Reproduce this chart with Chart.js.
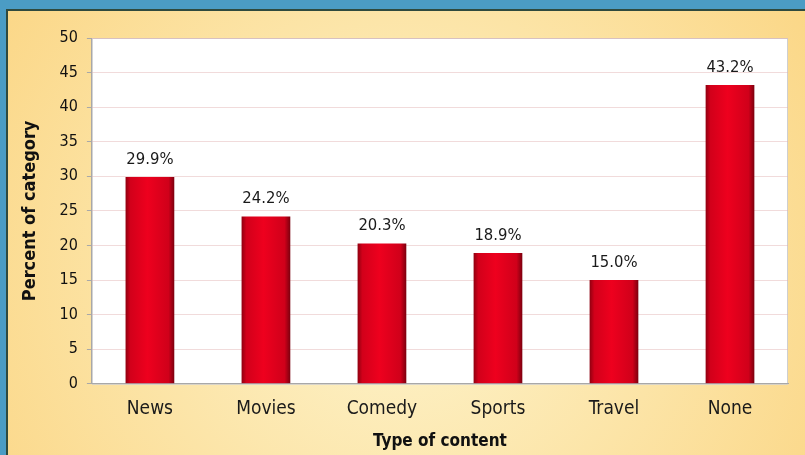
<!DOCTYPE html>
<html lang="en">
<head>
  <meta charset="UTF-8">
  <title>Type of content</title>
  <script src="https://cdn.jsdelivr.net/npm/chart.js"></script>
  <style>
    html, body { margin: 0; padding: 0; background: #4b9cc4; }
    #wrap { width: 805px; height: 455px; }
  </style>
</head>
<body>
<div id="wrap"><canvas id="chart" width="805" height="455"></canvas></div>
<script>
  // datos del grafico
  const categories = ['News', 'Movies', 'Comedy', 'Sports', 'Travel', 'None'];
  const percents = [29.9, 24.2, 20.3, 18.9, 15.0, 43.2];
  const yTicks = [0, 5, 10, 15, 20, 25, 30, 35, 40, 45, 50];

  const FONT = "'DejaVu Sans Condensed', 'Liberation Sans', sans-serif";

  // fondo: borde azul + panel amarillo, area blanca
  const backdrop = {
    id: 'backdrop',
    beforeDraw(chart) {
      const { ctx, width, height, chartArea: a } = chart;
      ctx.save();
      ctx.fillStyle = '#4b9cc4';
      ctx.fillRect(0, 0, width, height);
      const g = ctx.createRadialGradient(width * 0.5, height * 0.6, 40, width * 0.5, height * 0.6, width * 0.6);
      g.addColorStop(0, '#fdf2c8');
      g.addColorStop(1, '#fbd787');
      ctx.fillStyle = g;
      ctx.fillRect(7, 10, width - 7, height - 10);
      ctx.strokeStyle = '#2f4a3e';
      ctx.lineWidth = 2;
      ctx.beginPath();
      ctx.moveTo(7, height); ctx.lineTo(7, 10); ctx.lineTo(width, 10);
      ctx.stroke();
      ctx.fillStyle = '#ffffff';
      ctx.fillRect(a.left, a.top, a.right - a.left, a.bottom - a.top);
      ctx.strokeStyle = '#cfcfcf';
      ctx.lineWidth = 1;
      ctx.strokeRect(a.left + 0.5, a.top + 0.5, a.right - a.left - 1, a.bottom - a.top);
      ctx.restore();
    }
  };

  // etiquetas de valor sobre cada barra
  const valueLabels = {
    id: 'valueLabels',
    afterDatasetsDraw(chart) {
      const { ctx } = chart;
      const meta = chart.getDatasetMeta(0);
      ctx.save();
      ctx.font = '16.5px ' + FONT;
      ctx.fillStyle = '#1a1a1a';
      ctx.textAlign = 'center';
      ctx.textBaseline = 'bottom';
      meta.data.forEach((bar, i) => {
        ctx.fillText(percents[i].toFixed(1) + '%', bar.x, bar.y - 9);
      });
      ctx.restore();
    }
  };

  function barFill(context) {
    const chart = context.chart;
    const a = chart.chartArea;
    if (!a) return '#d8001a';
    const x = chart.scales.x.getPixelForValue(context.dataIndex);
    const w = 49;
    const g = chart.ctx.createLinearGradient(x - w / 2, 0, x + w / 2, 0);
    g.addColorStop(0, '#8e0010');
    g.addColorStop(0.1, '#d2001a');
    g.addColorStop(0.45, '#ee001e');
    g.addColorStop(0.88, '#d0001a');
    g.addColorStop(1, '#7a000e');
    return g;
  }

  const ctx = document.getElementById('chart').getContext('2d');
  new Chart(ctx, {
    type: 'bar',
    data: {
      labels: categories,
      datasets: [{
        data: percents,
        backgroundColor: barFill,
        borderWidth: 0,
        categoryPercentage: 1,
        barPercentage: 0.42
      }]
    },
    options: {
      responsive: false,
      animation: false,
      devicePixelRatio: 1,
      layout: { padding: { top: 38, right: 17, bottom: 3, left: 16 } },
      plugins: { legend: { display: false }, tooltip: { enabled: false } },
      scales: {
        x: {
          grid: { display: false, drawTicks: false },
          border: { color: '#a8a8a8' },
          ticks: { color: '#1a1a1a', font: { family: FONT, size: 19 }, padding: 14 },
          title: {
            display: true, text: 'Type of content', color: '#111',
            font: { family: FONT, size: 17, weight: 'bold' }, padding: { top: -3, bottom: 0 }
          }
        },
        y: {
          min: 0, max: 50,
          afterBuildTicks(scale) { scale.ticks = yTicks.map(v => ({ value: v })); },
          grid: { color: 'rgba(225,175,175,0.45)', tickColor: '#a8a8a8', tickLength: 5 },
          border: { color: '#a8a8a8' },
          ticks: { color: '#111', font: { family: FONT, size: 16 }, padding: 9 },
          title: {
            display: true, text: 'Percent of category', color: '#111',
            font: { family: FONT, size: 18, weight: 'bold' }, padding: { bottom: 9 }
          }
        }
      }
    },
    plugins: [backdrop, valueLabels]
  });
</script>
</body>
</html>
